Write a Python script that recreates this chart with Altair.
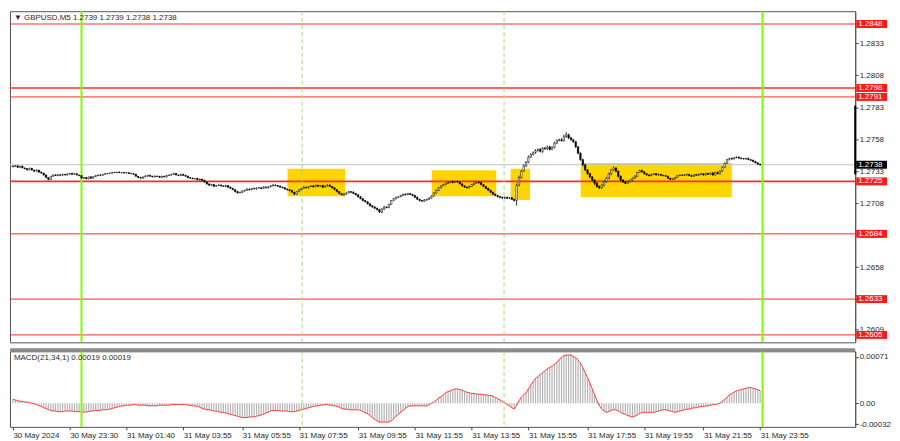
import altair as alt
import pandas as pd

# ---------------- data ----------------
first_open = 1.27370
closes = [
    1.27365, 1.27372, 1.27360, 1.27368, 1.27355,
    1.27350, 1.27340, 1.27352, 1.27338,
    1.27330, 1.27338, 1.27322, 1.27315,
    1.27300, 1.27280, 1.27265,
    1.27290, 1.27300, 1.27295, 1.27302, 1.27298, 1.27305, 1.27300,
    1.27308, 1.27312, 1.27305, 1.27310, 1.27300, 1.27295,
    1.27275, 1.27280, 1.27270, 1.27285, 1.27275, 1.27288,
    1.27295, 1.27300, 1.27298, 1.27305, 1.27310, 1.27312,
    1.27315, 1.27320, 1.27318, 1.27322, 1.27318, 1.27320, 1.27315, 1.27318, 1.27312, 1.27310, 1.27305,
    1.27290, 1.27280, 1.27275, 1.27285,
    1.27292, 1.27298, 1.27290, 1.27285, 1.27292,
    1.27288, 1.27282, 1.27290, 1.27285, 1.27295, 1.27300,
    1.27305, 1.27312, 1.27300, 1.27295, 1.27305, 1.27298, 1.27290,
    1.27280, 1.27275, 1.27270,
    1.27272, 1.27262, 1.27268, 1.27258,
    1.27245, 1.27230, 1.27220, 1.27225, 1.27212, 1.27218,
    1.27222, 1.27215, 1.27210, 1.27218, 1.27205, 1.27195,
    1.27185, 1.27170, 1.27160, 1.27165, 1.27175,
    1.27180, 1.27190, 1.27185, 1.27195, 1.27192, 1.27198,
    1.27200, 1.27195, 1.27205, 1.27200, 1.27208,
    1.27215, 1.27222, 1.27218, 1.27212, 1.27205,
    1.27200, 1.27190, 1.27185, 1.27178,
    1.27165, 1.27150,
    1.27170, 1.27185, 1.27195,
    1.27205, 1.27200, 1.27210, 1.27215, 1.27208, 1.27220, 1.27212, 1.27218, 1.27205, 1.27215, 1.27222, 1.27210, 1.27200,
    1.27185, 1.27170, 1.27155, 1.27145, 1.27150,
    1.27160, 1.27170, 1.27165, 1.27155, 1.27145,
    1.27130, 1.27115, 1.27100, 1.27090,
    1.27075, 1.27060, 1.27050, 1.27040, 1.27030,
    1.27010,
    1.27035, 1.27050, 1.27045, 1.27070,
    1.27100, 1.27115, 1.27125, 1.27130,
    1.27140, 1.27150, 1.27145, 1.27155, 1.27148, 1.27140,
    1.27125, 1.27110, 1.27100, 1.27095, 1.27105, 1.27110,
    1.27120, 1.27135,
    1.27160, 1.27180, 1.27200, 1.27215, 1.27225, 1.27235,
    1.27240, 1.27248, 1.27242, 1.27250, 1.27245,
    1.27230, 1.27215, 1.27205, 1.27200, 1.27210,
    1.27225, 1.27235, 1.27245, 1.27240,
    1.27225, 1.27210, 1.27195, 1.27180, 1.27165, 1.27150,
    1.27140, 1.27130, 1.27125,
    1.27120, 1.27125, 1.27118, 1.27122, 1.27110, 1.27100,
    1.27220,
    1.27280, 1.27330, 1.27370,
    1.27400, 1.27440, 1.27460, 1.27475,
    1.27490, 1.27500, 1.27485, 1.27510,
    1.27505, 1.27520, 1.27500, 1.27515,
    1.27550, 1.27570, 1.27575, 1.27568,
    1.27600, 1.27615,
    1.27590, 1.27575, 1.27560,
    1.27520, 1.27470, 1.27420,
    1.27380, 1.27340, 1.27310, 1.27285,
    1.27260, 1.27235, 1.27210, 1.27200,
    1.27220, 1.27250, 1.27275,
    1.27310, 1.27340, 1.27355,
    1.27330, 1.27290, 1.27260,
    1.27245, 1.27235, 1.27248,
    1.27260, 1.27275, 1.27290,
    1.27320, 1.27335, 1.27325,
    1.27310, 1.27300, 1.27295, 1.27305,
    1.27310, 1.27300, 1.27305, 1.27298,
    1.27295, 1.27290,
    1.27275, 1.27265, 1.27270, 1.27280,
    1.27295, 1.27300, 1.27298,
    1.27300, 1.27305, 1.27295, 1.27290, 1.27302, 1.27298, 1.27305,
    1.27310, 1.27300, 1.27312, 1.27305, 1.27315,
    1.27300, 1.27320, 1.27310, 1.27330,
    1.27360, 1.27390,
    1.27420, 1.27430, 1.27425, 1.27435,
    1.27440, 1.27432, 1.27428, 1.27425, 1.27430, 1.27420, 1.27415,
    1.27405, 1.27395, 1.27385, 1.27380,
]

# wick lengths in points (0.00001)
wick_up = [
    3, 5, 2, 4, 6, 3, 2, 5, 4, 3,
    6, 2, 4, 3, 5, 2, 3, 4, 6, 2,
    3, 5, 2, 4, 3, 6, 4, 2, 3, 5,
    4, 3, 2, 6, 3, 4, 2, 5, 3, 4,
    2, 4, 3, 5, 2, 6, 3, 2, 4, 3,
    5, 3, 4, 2, 6, 3, 5, 2, 3, 4,
    3, 2, 5, 4, 3, 6, 2, 4, 5, 3,
    4, 6, 3, 2, 5, 3, 4, 2, 6, 3,
    2, 5, 3, 6, 4, 2, 3, 5, 4, 2,
    6, 3, 5, 4, 2, 7, 3, 4, 5, 6,
    4, 3, 6, 5, 3, 4, 7, 5, 3, 6,
    5, 4, 3, 6, 4, 5, 3, 4, 6, 3,
    3, 5, 4, 6, 3, 4, 5, 3, 6, 4,
    4, 6, 3, 5, 4, 3, 6, 5, 4, 3,
    5, 4, 6, 3, 7, 4, 5, 6, 4, 5,
    6, 5, 4, 7, 5, 6, 4, 8, 5, 6,
    4, 5, 6, 3, 5, 4, 6, 5, 3, 4,
    5, 6, 4, 5, 7, 4, 6, 5, 4, 6,
    4, 5, 7, 6, 4, 5, 6, 4, 7, 5,
    6, 4, 5, 7, 5, 6, 4, 5, 6, 5,
    5, 6, 4, 5, 6, 4, 5, 6, 7, 5,
    5, 6, 4, 12, 15, 10, 14, 8, 12, 10,
    9, 12, 8, 10, 7, 9, 11, 8, 10, 9,
    8, 10, 12, 15, 20, 8, 10, 6, 5, 6,
    8, 7, 6, 5, 7, 6, 8, 9, 10, 12,
    10, 9, 8, 7, 12, 6, 5, 7, 8, 6,
    7, 5, 6, 8, 5, 6, 7, 5, 4, 6,
    5, 4, 6, 5, 3, 4, 6, 5, 4, 3,
    4, 5, 3, 6, 4, 5, 3, 4, 5, 6,
    5, 3, 4, 6, 5, 4, 7, 5, 8, 6,
    7, 9, 6, 5, 4, 6, 5, 4, 6, 5,
    4, 5, 3, 4, 6, 3, 4,
]
wick_dn = [
    4, 2, 5, 3, 2, 6, 4, 3, 2, 5,
    3, 4, 2, 5, 3, 6, 2, 4, 3, 5,
    2, 4, 3, 5, 6, 3, 2, 4, 5, 3,
    5, 3, 4, 2, 3, 5, 4, 6, 3, 2,
    4, 3, 5, 2, 4, 3, 6, 3, 2, 5,
    3, 5, 2, 4, 3, 5, 2, 6, 4, 3,
    5, 3, 4, 6, 2, 4, 3, 5, 4, 2,
    3, 4, 5, 3, 6, 4, 2, 5, 3, 6,
    4, 3, 6, 5, 4, 6, 3, 4, 5, 3,
    5, 6, 4, 3, 6, 5, 4, 7, 5, 4,
    6, 4, 5, 7, 4, 6, 5, 4, 6, 5,
    4, 6, 5, 3, 5, 4, 6, 5, 4, 7,
    5, 4, 6, 5, 4, 7, 5, 6, 4, 5,
    3, 5, 4, 6, 5, 4, 3, 6, 5, 4,
    6, 5, 4, 7, 5, 6, 8, 5, 6, 4,
    5, 7, 6, 5, 8, 6, 7, 9, 6, 5,
    5, 4, 6, 5, 4, 6, 5, 3, 5, 6,
    4, 5, 6, 4, 5, 7, 5, 6, 4, 5,
    6, 5, 4, 5, 6, 4, 7, 5, 6, 4,
    5, 6, 7, 5, 4, 6, 5, 7, 6, 5,
    6, 5, 7, 6, 5, 6, 8, 6, 7, 6,
    6, 5, 7, 40, 8, 7, 6, 9, 8, 7,
    8, 10, 7, 9, 12, 8, 10, 9, 7, 8,
    9, 8, 7, 8, 10, 9, 8, 10, 9, 8,
    10, 12, 9, 8, 10, 12, 15, 10, 9, 8,
    10, 9, 8, 12, 7, 8, 10, 9, 8, 7,
    6, 7, 5, 6, 8, 5, 6, 7, 5, 6,
    5, 6, 4, 5, 6, 5, 4, 6, 5, 4,
    6, 5, 4, 5, 6, 4, 5, 6, 5, 4,
    5, 4, 6, 5, 4, 5, 6, 4, 5, 6,
    6, 5, 4, 6, 5, 4, 5, 6, 5, 4,
    5, 4, 6, 5, 4, 5, 6,
]

# MACD(21,34,1) per bar, in units of 0.00001
macd_pts = [
    6, 5, 4, 3, 3, 2, 2, 1, 0, -1,
    -2, -4, -5, -7, -8, -10, -11, -12, -12, -13,
    -13, -13, -12, -12, -12, -12, -13, -13, -13, -13,
    -14, -13, -13, -12, -12, -11, -11, -11, -10, -10,
    -10, -9, -8, -7, -6, -5, -4, -4, -3, -3,
    -3, -2, -2, -3, -3, -3, -3, -4, -4, -4,
    -4, -4, -3, -3, -3, -3, -3, -2, -2, -2,
    -2, -2, -2, -2, -3, -3, -4, -4, -5, -6,
    -8, -9, -10, -10, -11, -12, -12, -13, -14, -14,
    -15, -16, -17, -18, -19, -20, -21, -22, -22, -22,
    -21, -21, -21, -20, -19, -18, -17, -15, -14, -12,
    -11, -11, -11, -12, -12, -12, -12, -13, -13, -13,
    -12, -11, -10, -9, -8, -7, -6, -5, -4, -4,
    -3, -3, -2, -2, -3, -3, -4, -5, -6, -8,
    -9, -9, -10, -10, -10, -10, -10, -11, -13, -15,
    -16, -19, -22, -25, -27, -29, -29, -29, -29, -29,
    -27, -24, -20, -17, -14, -11, -8, -5, -4, -4,
    -4, -4, -4, -4, -4, -4, -2, 0, 2, 5,
    8, 10, 13, 16, 18, 19, 21, 22, 22, 21,
    20, 18, 17, 16, 15, 15, 14, 14, 14, 13,
    13, 12, 12, 11, 9, 7, 5, 3, 1, -2,
    -4, -7, -9, -3, 4, 9, 13, 16, 22, 28,
    33, 38, 41, 44, 47, 50, 53, 55, 57, 60,
    63, 67, 70, 73, 74, 74, 74, 72, 70, 66,
    62, 55, 47, 39, 31, 22, 13, 4, -4, -9,
    -12, -14, -13, -11, -10, -10, -12, -14, -16, -17,
    -19, -20, -21, -20, -18, -16, -14, -14, -14, -14,
    -14, -14, -13, -12, -11, -10, -10, -11, -12, -13,
    -14, -13, -12, -11, -10, -9, -9, -8, -7, -7,
    -6, -5, -5, -4, -4, -3, -2, -2, -1, 0,
    3, 6, 9, 13, 15, 17, 19, 20, 21, 22,
    23, 24, 24, 23, 22, 21, 19,
]

levels = [1.2848, 1.2798, 1.2791, 1.2725, 1.2684, 1.2633, 1.2605]
level_width = [1, 1.6, 1, 1.6, 1, 1, 1]
current_price = 1.2738

# yellow boxes (bar index range, price range)
box_x0 = [116.1, 177.1, 210.5, 240.1]
box_x1 = [140.5, 204.4, 218.7, 304.0]
box_top = [1.27348, 1.27337, 1.27348, 1.27393]
box_bot = [1.27133, 1.27133, 1.27105, 1.27125]

day_sep = [29, 317]
session_sep = [122.3, 207.7]

tick_idx = [0, 24, 48, 72, 97, 121, 146, 170, 194, 218, 243, 267, 292, 316]
tick_lbl = ["30 May 2024", "30 May 23:30", "31 May 01:40", "31 May 03:55",
            "31 May 05:55", "31 May 07:55", "31 May 09:55", "31 May 11:55",
            "31 May 13:55", "31 May 15:55", "31 May 17:55", "31 May 19:55",
            "31 May 21:55", "31 May 23:55"]
price_ticks = [1.2833, 1.2808, 1.2783, 1.2758, 1.2733, 1.2708, 1.2683, 1.2658, 1.2633, 1.2609]
macd_ticks = [0.00071, 0.0, -0.00032]
macd_tick_lbl = ["0.00071", "0.00", "-0.00032"]

header = "\u25bc GBPUSD,M5  1.2739 1.2739 1.2738 1.2738"
macd_header = "MACD(21,34,1) 0.00019 0.00019"

# ---------------- layout ----------------
W = 850
H_PRICE = 333
H_MACD = 76
X_DOMAIN = [-1.24, 356.2]
P_DOMAIN = [1.25992, 1.2858]
M_DOMAIN = [-0.000363, 0.000798]
FONT = "Liberation Sans"
TXT = "#2a2a2a"

n = len(closes)
assert len(wick_up) == n and len(wick_dn) == n and len(macd_pts) == n, \
    (n, len(wick_up), len(wick_dn), len(macd_pts))
opens = [first_open] + closes[:-1]
highs = [max(o, c) + u * 1e-5 for o, c, u in zip(opens, closes, wick_up)]
lows = [min(o, c) - d * 1e-5 for o, c, d in zip(opens, closes, wick_dn)]
df = pd.DataFrame({"i": list(range(n)), "open": opens, "close": closes,
                   "high": highs, "low": lows})
mdf = pd.DataFrame({"i": list(range(n)), "macd": [v * 1e-5 for v in macd_pts]})

xs = alt.Scale(domain=X_DOMAIN, nice=False, zero=False, padding=0)
ys = alt.Scale(domain=P_DOMAIN, nice=False, zero=False)
ms = alt.Scale(domain=M_DOMAIN, nice=False, zero=False)

price_axis = alt.Axis(orient="right", values=price_ticks, format=".4f", title=None,
                      tickSize=3, labelPadding=1, labelFont=FONT, labelFontSize=8,
                      labelColor=TXT, tickColor="#444", domainColor="#555",
                      grid=False, labelOverlap=False, labelBound=False, labelFlush=False)

expr = "''"
for v, l in reversed(list(zip(macd_ticks, macd_tick_lbl))):
    expr = f"abs(datum.value - ({v})) < 1e-7 ? '{l}' : ({expr})"
macd_axis = alt.Axis(orient="right", values=macd_ticks, labelExpr=expr, title=None,
                     tickSize=3, labelPadding=1, labelFont=FONT, labelFontSize=8,
                     labelColor=TXT, tickColor="#444", domainColor="#555",
                     grid=False, labelOverlap=False, labelBound=False, labelFlush=False)

xexpr = "''"
for v, l in reversed(list(zip(tick_idx, tick_lbl))):
    xexpr = f"datum.value == {v} ? '{l}' : ({xexpr})"
x_axis = alt.Axis(values=tick_idx, labelExpr=xexpr, title=None, labelAlign="left",
                  labelPadding=2, tickSize=3, labelFont=FONT, labelFontSize=8,
                  labelColor=TXT, tickColor="#444", domain=False, grid=False,
                  labelOverlap=False, labelFlush=False, labelBound=False)

Xp = lambda f: alt.X(f, scale=xs, axis=None)
Yp = lambda f: alt.Y(f, scale=ys, axis=price_axis)

box_df = pd.DataFrame({"x0": box_x0, "x1": box_x1, "top": box_top, "bot": box_bot})
lvl_df = pd.DataFrame({"price": levels, "w": level_width,
                       "label": [f"{v:.4f}" for v in levels]})
cur_df = pd.DataFrame({"price": [current_price], "label": [f"{current_price:.4f}"]})
day_df = pd.DataFrame({"i": day_sep})
ses_df = pd.DataFrame({"i": session_sep})

BOX = "M-1,-0.258H1V0.258H-1Z"

boxes = alt.Chart(box_df).mark_rect(color="#ffd500").encode(
    x=Xp("x0:Q"), x2="x1:Q", y=Yp("top:Q"), y2="bot:Q")
bid = alt.Chart(cur_df).mark_rule(color="#c4c4c4", strokeWidth=1).encode(y=Yp("price:Q"))
lvl_lines = alt.Chart(lvl_df).mark_rule(color="#ff2a2a").encode(
    y=Yp("price:Q"), strokeWidth=alt.StrokeWidth("w:Q", scale=None, legend=None))
ses_lines = alt.Chart(ses_df).mark_rule(color="#a6dc6e", strokeWidth=1,
                                        strokeDash=[4, 3]).encode(x=Xp("i:Q"))
day_lines = alt.Chart(day_df).mark_rule(color="#7cfc00", strokeWidth=2).encode(x=Xp("i:Q"))
wicks = alt.Chart(df).mark_rule(color="black", strokeWidth=0.8).encode(
    x=Xp("i:Q"), y=Yp("low:Q"), y2="high:Q")
bodies = alt.Chart(df).mark_bar(size=1.5, stroke="black", strokeWidth=0.5).encode(
    x=Xp("i:Q"), y=Yp("open:Q"), y2="close:Q",
    fill=alt.condition("datum.close >= datum.open", alt.value("white"), alt.value("black")))
head = alt.Chart(pd.DataFrame({"t": [header]})).mark_text(
    align="left", baseline="middle", font=FONT, fontSize=8, color=TXT).encode(
    x=alt.value(4), y=alt.value(7), text="t:N")
rail = alt.Chart(pd.DataFrame({"a": [1.27305], "b": [1.27843]})).mark_rule(
    color="black", strokeWidth=2).encode(x=alt.value(W), y=Yp("a:Q"), y2="b:Q")
lvl_box = alt.Chart(lvl_df).mark_point(shape=BOX, size=961, filled=True, opacity=1,
                                       color="#ff1a1a", strokeWidth=0).encode(
    x=alt.value(W + 16.5), y=Yp("price:Q"))
lvl_txt = alt.Chart(lvl_df).mark_text(align="left", baseline="middle", font=FONT,
                                      fontSize=8, color="white").encode(
    x=alt.value(W + 3), y=Yp("price:Q"), text="label:N")
cur_box = alt.Chart(cur_df).mark_point(shape=BOX, size=961, filled=True, opacity=1,
                                       color="black", strokeWidth=0).encode(
    x=alt.value(W + 16.5), y=Yp("price:Q"))
cur_txt = alt.Chart(cur_df).mark_text(align="left", baseline="middle", font=FONT,
                                      fontSize=8, color="white").encode(
    x=alt.value(W + 3), y=Yp("price:Q"), text="label:N")

price_panel = alt.layer(boxes, bid, lvl_lines, ses_lines, day_lines, wicks, bodies,
                        head, rail, lvl_box, lvl_txt, cur_box, cur_txt).properties(
    width=W, height=H_PRICE)

Xm = lambda f: alt.X(f, scale=xs, axis=x_axis)
Ym = lambda f: alt.Y(f, scale=ms, axis=macd_axis)

hist = alt.Chart(mdf).mark_rule(color="#b4b4b4", strokeWidth=1.2).encode(
    x=Xm("i:Q"), y=Ym("macd:Q"), y2=alt.datum(0))
sig = alt.Chart(mdf).mark_line(color="#ff3b3b", strokeWidth=1).encode(
    x=Xm("i:Q"), y=Ym("macd:Q"))
m_ses = alt.Chart(ses_df).mark_rule(color="#a6dc6e", strokeWidth=1,
                                    strokeDash=[4, 3]).encode(x=Xm("i:Q"))
m_day = alt.Chart(day_df).mark_rule(color="#7cfc00", strokeWidth=2).encode(x=Xm("i:Q"))
sep = alt.Chart(pd.DataFrame({"k": [0]})).mark_rule(color="#8c8c8c", strokeWidth=3).encode(
    x=alt.value(0), x2=alt.value(W), y=alt.value(-1.5))
m_head = alt.Chart(pd.DataFrame({"t": [macd_header]})).mark_text(
    align="left", baseline="middle", font=FONT, fontSize=8, color=TXT).encode(
    x=alt.value(4), y=alt.value(7), text="t:N")

macd_panel = alt.layer(hist, sig, m_ses, m_day, sep, m_head).properties(
    width=W, height=H_MACD)

chart = alt.vconcat(price_panel, macd_panel, spacing=3).properties(
    padding=0, background="white"
).configure_view(stroke="#555", strokeWidth=1)

chart.save("out.html", embed_options={"renderer": "svg", "actions": False})
